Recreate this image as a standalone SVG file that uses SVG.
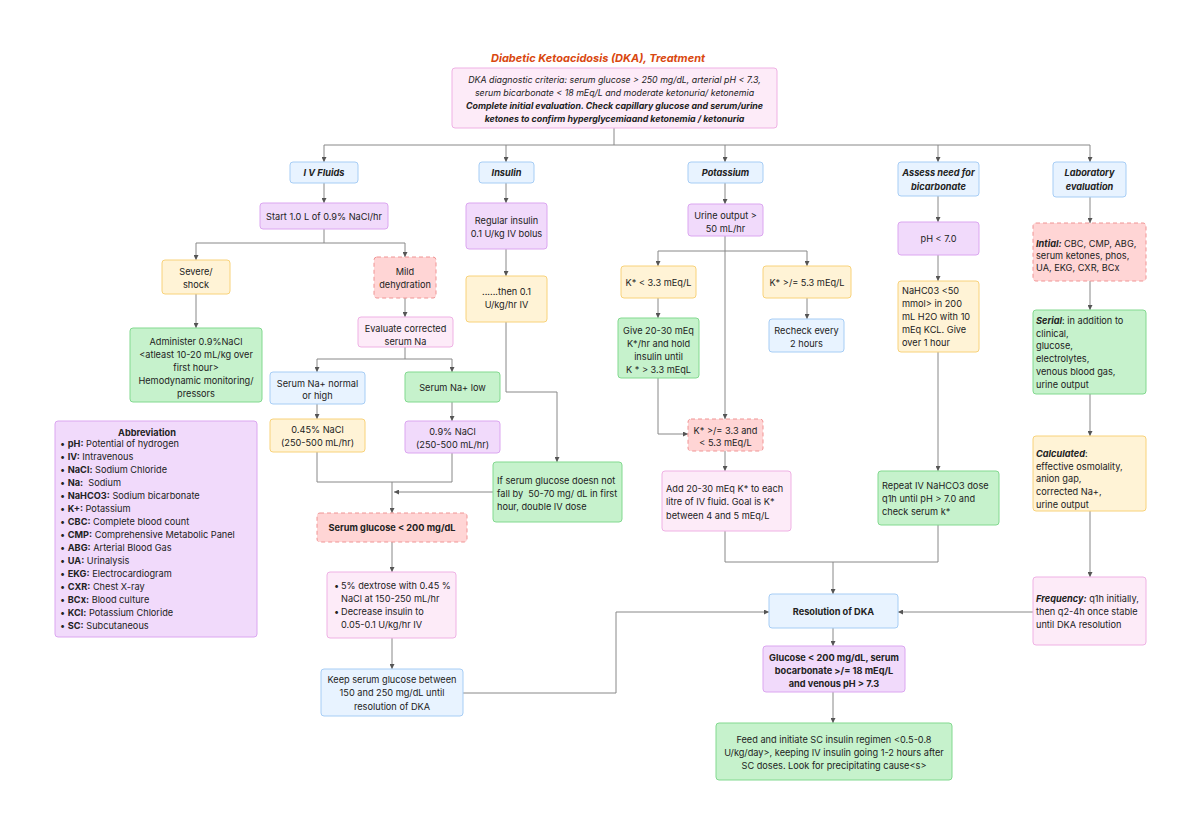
<svg xmlns="http://www.w3.org/2000/svg" width="1200" height="834" viewBox="0 0 1200 834">
<defs>
<marker id="ah" viewBox="0 0 6 6" refX="6" refY="3" markerWidth="5" markerHeight="5" orient="auto" markerUnits="userSpaceOnUse">
<path d="M0,0 L6,3 L0,6 z" fill="#555"/>
</marker>
<style>
text{font-family:Inter,"Liberation Sans",sans-serif;font-size:9.2px;fill:#222;}
.c{text-anchor:middle;}
.b{font-weight:bold;}
.i{font-style:italic;}
.sm{font-size:8.8px;}
.pre{white-space:pre;}
.title{font-size:11px;font-weight:bold;font-style:italic;fill:#d9480f;text-anchor:middle;}
rect{stroke-width:1;}
.blue{fill:#e8f3ff;stroke:#a6cdf5;}
.purple{fill:#f1dafb;stroke:#dba6f0;}
.pink{fill:#fdebf8;stroke:#efb1e4;}
.yellow{fill:#fff3d6;stroke:#f8d27a;}
.green{fill:#c6f2cc;stroke:#82d98f;}
.red{fill:#ffd5d5;stroke:#f09494;stroke-dasharray:4 3;}
.edges path{fill:none;stroke:#888;stroke-width:1;}
.arr{marker-end:url(#ah);}
</style>
</defs>
<rect width="1200" height="834" fill="#ffffff"/>
<text class="title" x="598" y="62">Diabetic Ketoacidosis (DKA), Treatment</text>

<g class="edges">
<path d="M614,128 V145"/>
<path d="M324,145 H1090"/>
<path class="arr" d="M324,145 V162"/>
<path class="arr" d="M506,145 V162"/>
<path class="arr" d="M725,145 V162"/>
<path class="arr" d="M938,145 V162"/>
<path class="arr" d="M1090,145 V162"/>
<path class="arr" d="M324,183 V203"/>
<path d="M324,229 V243 M196,243 H405"/>
<path class="arr" d="M196,243 V260"/>
<path class="arr" d="M405,243 V257"/>
<path class="arr" d="M196,294 V328"/>
<path class="arr" d="M405,298 V317"/>
<path d="M405,347 V359 M317,359 H452"/>
<path class="arr" d="M317,359 V372"/>
<path class="arr" d="M452,359 V372"/>
<path class="arr" d="M317,404 V419"/>
<path class="arr" d="M452,402 V421"/>
<path d="M317,452 V482 H452 V453"/>
<path class="arr" d="M392,482 V513"/>
<path class="arr" d="M493,492 H394"/>
<path class="arr" d="M392,542 V572"/>
<path class="arr" d="M392,638 V669"/>
<path class="arr" d="M463,693 H616 V612 H769"/>
<path class="arr" d="M506,183 V203"/>
<path class="arr" d="M506,249 V276"/>
<path class="arr" d="M506,322 V392 H557 V462"/>
<path class="arr" d="M725,183 V204"/>
<path d="M725,236 V251 M658,251 H807"/>
<path class="arr" d="M658,251 V266"/>
<path class="arr" d="M807,251 V266"/>
<path class="arr" d="M725,251 V419"/>
<path class="arr" d="M658,298 V318"/>
<path class="arr" d="M807,298 V319"/>
<path class="arr" d="M658,378 V434 H688"/>
<path class="arr" d="M725,451 V471"/>
<path d="M725,531 V562 H938 V525"/>
<path class="arr" d="M833,562 V594"/>
<path class="arr" d="M938,196 V222"/>
<path class="arr" d="M938,255 V281"/>
<path class="arr" d="M938,352 V471"/>
<path class="arr" d="M1090,197 V223"/>
<path class="arr" d="M1090,281 V310"/>
<path class="arr" d="M1090,394 V436"/>
<path class="arr" d="M1090,511 V577"/>
<path class="arr" d="M1033,612 H898"/>
<path class="arr" d="M833,628 V646"/>
<path class="arr" d="M833,692 V723"/>
</g>

<g id="n-top">
<rect class="pink" x="452" y="68" width="325" height="60" rx="3"/>
<text class="c i sm" x="614.5" y="83">DKA diagnostic criteria: serum glucose &gt; 250 mg/dL, arterial pH &lt; 7.3,</text>
<text class="c i sm" x="614.5" y="96">serum bicarbonate &lt; 18 mEq/L and moderate ketonuria/ ketonemia</text>
<text class="c i b sm" x="614.5" y="109">Complete initial evaluation. Check capillary glucose and serum/urine</text>
<text class="c i b sm" x="614.5" y="122">ketones to confirm hyperglycemiaand ketonemia / ketonuria</text>
</g>

<g id="n-ivfluids">
<rect class="blue" x="290" y="162" width="68" height="21" rx="3"/>
<text class="c i b" x="324" y="176">I V Fluids</text>
</g>
<g id="n-insulin">
<rect class="blue" x="479" y="162" width="55" height="21" rx="3"/>
<text class="c i b" x="506.5" y="176">Insulin</text>
</g>
<g id="n-potassium">
<rect class="blue" x="688" y="162" width="75" height="21" rx="3"/>
<text class="c i b" x="725.5" y="176">Potassium</text>
</g>
<g id="n-bicarb">
<rect class="blue" x="898" y="162" width="81" height="34" rx="3"/>
<text class="c i b" x="938.5" y="176">Assess need for</text>
<text class="c i b" x="938.5" y="190">bicarbonate</text>
</g>
<g id="n-lab">
<rect class="blue" x="1053" y="162" width="73" height="35" rx="3"/>
<text class="c i b" x="1089.5" y="176">Laboratory</text>
<text class="c i b" x="1089.5" y="190">evaluation</text>
</g>

<g id="n-start">
<rect class="purple" x="260" y="203" width="128" height="26" rx="3"/>
<text class="c" x="324" y="219.5">Start 1.0 L of 0.9% NaCl/hr</text>
</g>
<g id="n-severe">
<rect class="yellow" x="162" y="260" width="68" height="34" rx="3"/>
<text class="c" x="196" y="274.5">Severe/</text>
<text class="c" x="196" y="287.5">shock</text>
</g>
<g id="n-mild">
<rect class="red" x="374" y="257" width="62" height="41" rx="3"/>
<text class="c" x="405" y="274.5">Mild</text>
<text class="c" x="405" y="287.5">dehydration</text>
</g>
<g id="n-administer">
<rect class="green" x="130" y="328" width="132" height="74" rx="3"/>
<text class="c" x="196" y="344.5">Administer 0.9%NaCl</text>
<text class="c" x="196" y="357.5">&lt;atleast 10-20 mL/kg over</text>
<text class="c" x="196" y="370.5">first hour&gt;</text>
<text class="c" x="196" y="383.5">Hemodynamic monitoring/</text>
<text class="c" x="196" y="396.5">pressors</text>
</g>
<g id="n-evaluate">
<rect class="pink" x="358" y="317" width="95" height="30" rx="3"/>
<text class="c" x="405.5" y="331.5">Evaluate corrected</text>
<text class="c" x="405.5" y="344.5">serum Na</text>
</g>
<g id="n-nanormal">
<rect class="blue" x="270" y="372" width="95" height="32" rx="3"/>
<text class="c" x="317.5" y="386.5">Serum Na+ normal</text>
<text class="c" x="317.5" y="398.5">or high</text>
</g>
<g id="n-nalow">
<rect class="green" x="405" y="372" width="95" height="30" rx="3"/>
<text class="c" x="452.5" y="390.5">Serum Na+ low</text>
</g>
<g id="n-045">
<rect class="yellow" x="270" y="419" width="95" height="33" rx="3"/>
<text class="c" x="317.5" y="432.5">0.45% NaCl</text>
<text class="c" x="317.5" y="446">(250-500 mL/hr)</text>
</g>
<g id="n-09">
<rect class="purple" x="405" y="421" width="95" height="32" rx="3"/>
<text class="c" x="452.5" y="435">0.9% NaCl</text>
<text class="c" x="452.5" y="447.5">(250-500 mL/hr)</text>
</g>
<g id="n-ifserum">
<rect class="green" x="493" y="462" width="129" height="60" rx="3"/>
<text x="497" y="483.5">If serum glucose doesn not</text>
<text class="pre" x="497" y="496.5">fall by  50-70 mg/ dL in first</text>
<text x="497" y="509.5">hour, double IV dose</text>
</g>
<g id="n-glucose200">
<rect class="red" x="317" y="513" width="150" height="29" rx="3"/>
<text class="c b" x="392" y="530.5">Serum glucose &lt; 200 mg/dL</text>
</g>
<g id="n-dextrose">
<rect class="pink" x="327" y="572" width="129" height="66" rx="3"/>
<text x="334" y="588.5">•</text>
<text x="341" y="588.5">5% dextrose with 0.45 %</text>
<text x="341" y="601.5">NaCl at 150-250 mL/hr</text>
<text x="334" y="614.5">•</text>
<text x="341" y="614.5">Decrease insulin to</text>
<text x="341" y="627.5">0.05-0.1 U/kg/hr IV</text>
</g>
<g id="n-keep">
<rect class="blue" x="321" y="669" width="142" height="47" rx="3"/>
<text class="c" x="392" y="682.5">Keep serum glucose between</text>
<text class="c" x="392" y="696">150 and 250 mg/dL until</text>
<text class="c" x="392" y="709.5">resolution of DKA</text>
</g>

<g id="n-regular">
<rect class="purple" x="466" y="203" width="81" height="46" rx="3"/>
<text class="c" x="506.5" y="223.5">Regular insulin</text>
<text class="c" x="506.5" y="236.5">0.1 U/kg IV bolus</text>
</g>
<g id="n-then">
<rect class="yellow" x="466" y="276" width="81" height="46" rx="3"/>
<text class="c" x="506.5" y="294.5">......then 0.1</text>
<text class="c" x="506.5" y="308">U/kg/hr IV</text>
</g>

<g id="n-urine">
<rect class="purple" x="688" y="204" width="75" height="32" rx="3"/>
<text class="c" x="725.5" y="218.5">Urine output &gt;</text>
<text class="c" x="725.5" y="231.5">50 mL/hr</text>
</g>
<g id="n-klow">
<rect class="yellow" x="621" y="266" width="75" height="32" rx="3"/>
<text class="c" x="658.5" y="285.5">K* &lt; 3.3 mEq/L</text>
</g>
<g id="n-khigh">
<rect class="yellow" x="763" y="266" width="88" height="32" rx="3"/>
<text class="c" x="807" y="285.5">K* &gt;/= 5.3 mEq/L</text>
</g>
<g id="n-give">
<rect class="green" x="618" y="318" width="81" height="60" rx="3"/>
<text class="c" x="658.5" y="333.5">Give 20-30 mEq</text>
<text class="c" x="658.5" y="346.5">K*/hr and hold</text>
<text class="c" x="658.5" y="359.5">insulin until</text>
<text class="c" x="658.5" y="372.5">K * &gt; 3.3 mEqL</text>
</g>
<g id="n-recheck">
<rect class="blue" x="769" y="319" width="75" height="33" rx="3"/>
<text class="c" x="806.5" y="333.5">Recheck every</text>
<text class="c" x="806.5" y="346.5">2 hours</text>
</g>
<g id="n-kmid">
<rect class="red" x="688" y="419" width="75" height="32" rx="3"/>
<text class="c" x="725.5" y="433.5">K* &gt;/= 3.3 and</text>
<text class="c" x="725.5" y="445.5">&lt; 5.3 mEq/L</text>
</g>
<g id="n-add">
<rect class="pink" x="662" y="471" width="129" height="60" rx="3"/>
<text x="666" y="491.5">Add 20-30 mEq K* to each</text>
<text x="666" y="505">litre of IV fluid. Goal is K*</text>
<text x="666" y="518.5">between 4 and 5 mEq/L</text>
</g>

<g id="n-ph">
<rect class="purple" x="898" y="222" width="81" height="33" rx="3"/>
<text class="c" x="938.5" y="241.5">pH &lt; 7.0</text>
</g>
<g id="n-nahco3">
<rect class="yellow" x="898" y="281" width="81" height="71" rx="3"/>
<text x="902" y="293.5">NaHC03 &lt;50</text>
<text x="902" y="306.5">mmol&gt; in 200</text>
<text x="902" y="319.5">mL H2O with 10</text>
<text x="902" y="332.5">mEq KCL. Give</text>
<text x="902" y="345.5">over 1 hour</text>
</g>
<g id="n-repeat">
<rect class="green" x="878" y="471" width="121" height="54" rx="3"/>
<text x="882" y="488.5">Repeat IV NaHCO3 dose</text>
<text x="882" y="501.5">q1h until pH &gt; 7.0 and</text>
<text x="882" y="514.5">check serum k*</text>
</g>

<g id="n-initial">
<rect class="red" x="1033" y="223" width="113" height="58" rx="3"/>
<text x="1036" y="246.5"><tspan class="b i">Intial:</tspan> CBC, CMP, ABG,</text>
<text x="1036" y="258.5">serum ketones, phos,</text>
<text x="1036" y="270.5">UA, EKG, CXR, BCx</text>
</g>
<g id="n-serial">
<rect class="green" x="1033" y="310" width="113" height="84" rx="3"/>
<text x="1036" y="324"><tspan class="b i">Serial</tspan>: in addition to</text>
<text x="1036" y="336.5">clinical,</text>
<text x="1036" y="349">glucose,</text>
<text x="1036" y="361.5">electrolytes,</text>
<text x="1036" y="374.5">venous blood gas,</text>
<text x="1036" y="387.5">urine output</text>
</g>
<g id="n-calculated">
<rect class="yellow" x="1033" y="436" width="113" height="75" rx="3"/>
<text x="1036" y="456.5"><tspan class="b i">Calculated</tspan>:</text>
<text x="1036" y="469.5">effective osmolality,</text>
<text x="1036" y="482">anion gap,</text>
<text x="1036" y="495">corrected Na+,</text>
<text x="1036" y="508">urine output</text>
</g>
<g id="n-frequency">
<rect class="pink" x="1033" y="577" width="113" height="68" rx="3"/>
<text x="1036" y="601.5"><tspan class="b i">Frequency:</tspan> q1h initially,</text>
<text x="1036" y="614.5">then q2-4h once stable</text>
<text x="1036" y="627.5">until DKA resolution</text>
</g>

<g id="n-resolution">
<rect class="blue" x="769" y="594" width="129" height="34" rx="3"/>
<text class="c b" x="833.5" y="614.5">Resolution of DKA</text>
</g>
<g id="n-criteria">
<rect class="purple" x="763" y="646" width="142" height="46" rx="3"/>
<text class="c b" x="834" y="660.5">Glucose &lt; 200 mg/dL, serum</text>
<text class="c b" x="834" y="673.5">bocarbonate &gt;/= 18 mEq/L</text>
<text class="c b" x="834" y="687">and venous pH &gt; 7.3</text>
</g>
<g id="n-feed">
<rect class="green" x="716" y="723" width="236" height="57" rx="3"/>
<text class="c" x="834" y="742.5">Feed and initiate SC insulin regimen &lt;0.5-0.8</text>
<text class="c" x="834" y="755.5">U/kg/day&gt;, keeping IV insulin going 1-2 hours after</text>
<text class="c" x="834" y="768.5">SC doses. Look for precipitating cause&lt;s&gt;</text>
</g>

<g id="n-abbrev">
<rect class="purple" x="55" y="421" width="202" height="216" rx="3"/>
<text class="c b" x="147" y="435.5">Abbreviation</text>
<g>
<text x="60" y="447"><tspan>• </tspan><tspan class="b">pH:</tspan> Potential of hydrogen</text>
<text x="60" y="460"><tspan>• </tspan><tspan class="b">IV:</tspan> Intravenous</text>
<text x="60" y="473"><tspan>• </tspan><tspan class="b">NaCl:</tspan> Sodium Chloride</text>
<text class="pre" x="60" y="486"><tspan>• </tspan><tspan class="b">Na:</tspan>  Sodium</text>
<text x="60" y="499"><tspan>• </tspan><tspan class="b">NaHCO3:</tspan> Sodium bicarbonate</text>
<text x="60" y="512"><tspan>• </tspan><tspan class="b">K+:</tspan> Potassium</text>
<text x="60" y="525"><tspan>• </tspan><tspan class="b">CBC:</tspan> Complete blood count</text>
<text x="60" y="538"><tspan>• </tspan><tspan class="b">CMP:</tspan> Comprehensive Metabolic Panel</text>
<text x="60" y="551"><tspan>• </tspan><tspan class="b">ABG:</tspan> Arterial Blood Gas</text>
<text x="60" y="564"><tspan>• </tspan><tspan class="b">UA:</tspan> Urinalysis</text>
<text x="60" y="577"><tspan>• </tspan><tspan class="b">EKG:</tspan> Electrocardiogram</text>
<text x="60" y="590"><tspan>• </tspan><tspan class="b">CXR:</tspan> Chest X-ray</text>
<text x="60" y="603"><tspan>• </tspan><tspan class="b">BCx:</tspan> Blood culture</text>
<text x="60" y="616"><tspan>• </tspan><tspan class="b">KCl:</tspan> Potassium Chloride</text>
<text x="60" y="629"><tspan>• </tspan><tspan class="b">SC:</tspan> Subcutaneous</text>
</g>
</g>
</svg>
